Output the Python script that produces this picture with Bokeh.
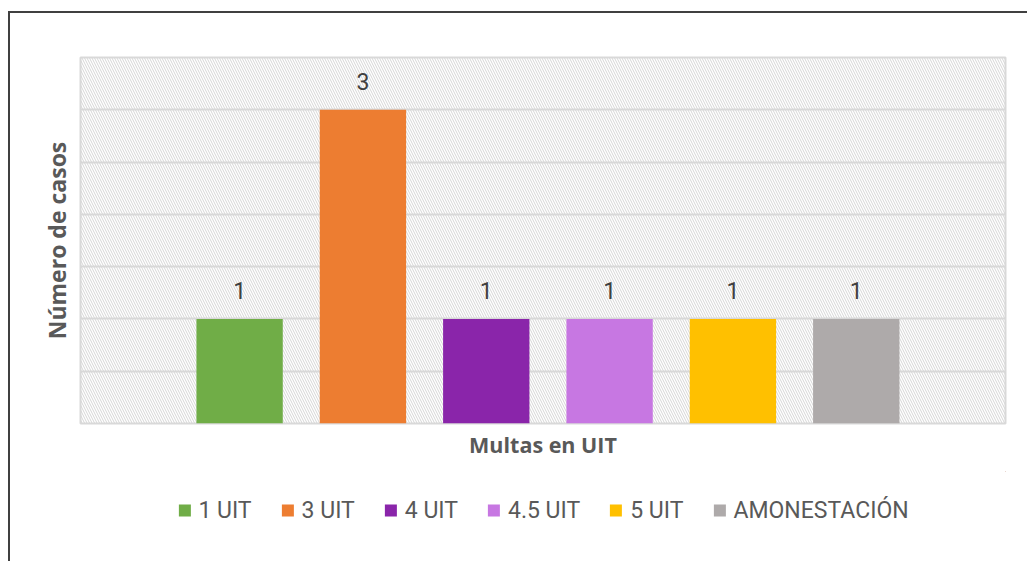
from bokeh.plotting import figure
from bokeh.layouts import column
from bokeh.models import (ColumnDataSource, Range1d, BoxAnnotation,
                          Legend, LegendItem, SingleIntervalTicker)
from bokeh.core.properties import value
from bokeh.embed import file_html
from bokeh.resources import INLINE

series = ["1 UIT", "3 UIT", "4 UIT", "4.5 UIT", "5 UIT", "AMONESTACIÓN"]
counts = [1, 3, 1, 1, 1, 1]
colors = ["#70AD47", "#ED7D31", "#8A25AA", "#C777E2", "#FFC000", "#AEAAAA"]
labels = [str(c) for c in counts]

FONT = "Open Sans"
LFONT = "Roboto"

xpos = list(range(len(series)))
src = ColumnDataSource(dict(x=xpos, top=counts, color=colors, label=labels))

p = figure(x_range=Range1d(-1.29, 6.21), y_range=Range1d(0, 3.5),
           width=1017, height=458, output_backend="svg", toolbar_location=None,
           min_border_left=70, min_border_right=22, min_border_top=44,
           min_border_bottom=48)

p.background_fill_color = "white"
p.border_fill_color = "white"
p.outline_line_color = "#d9d9d9"
p.outline_line_width = 2

# hatched plot-area background
p.add_layout(BoxAnnotation(fill_color=None, fill_alpha=0, line_color=None,
                           hatch_pattern="\\", hatch_color="#d6d6d6",
                           hatch_scale=5, hatch_weight=1, level="underlay"))

for i, s in enumerate(series):
    view_src = ColumnDataSource(dict(x=[xpos[i]], top=[counts[i]]))
    p.vbar(x="x", top="top", width=0.70, source=view_src,
           fill_color=colors[i], line_color=None)

p.text(x="x", y="top", text="label", source=src, y_offset=-28,
       text_align="center", text_baseline="alphabetic", text_color="#404040",
       text_font=value(LFONT), text_font_size="23px")

p.ygrid.ticker = SingleIntervalTicker(interval=0.5)
p.ygrid.grid_line_color = "#d9d9d9"
p.ygrid.grid_line_width = 2
p.xgrid.grid_line_color = None

p.yaxis.ticker = SingleIntervalTicker(interval=0.5)
p.yaxis.major_label_text_color = None
p.yaxis.major_label_text_font_size = "0px"
p.yaxis.major_label_standoff = 0
p.yaxis.major_tick_out = 0
p.yaxis.major_tick_in = 0
p.yaxis.axis_line_color = None
p.yaxis.major_tick_line_color = None
p.yaxis.minor_tick_line_color = None
p.yaxis.axis_label = "Número de casos"
p.yaxis.axis_label_text_font = FONT
p.yaxis.axis_label_text_font_style = "bold"
p.yaxis.axis_label_text_font_size = "23px"
p.yaxis.axis_label_text_color = "#595959"
p.yaxis.axis_label_standoff = 4

p.xaxis.major_label_text_color = None
p.xaxis.major_label_text_font_size = "0px"
p.xaxis.major_label_standoff = 0
p.xaxis.major_tick_out = 0
p.xaxis.major_tick_in = 0
p.xaxis.axis_line_color = None
p.xaxis.major_tick_line_color = None
p.xaxis.minor_tick_line_color = None
p.xaxis.axis_label = "Multas en UIT"
p.xaxis.axis_label_text_font = FONT
p.xaxis.axis_label_text_font_style = "bold"
p.xaxis.axis_label_text_font_size = "21.5px"
p.xaxis.axis_label_text_color = "#595959"
p.xaxis.axis_label_standoff = 2

# legend strip below the chart
lg = figure(width=1017, height=90, output_backend="svg", toolbar_location=None,
            x_range=Range1d(0, 1), y_range=Range1d(0, 1),
            min_border_left=35, min_border_right=0, min_border_top=0,
            min_border_bottom=12)
lg.axis.visible = False
lg.grid.visible = False
lg.outline_line_color = None
lg.background_fill_color = "white"
lg.border_fill_color = "white"
items = []
for s, c in zip(series, colors):
    # placeholder bar kept far outside the visible range: only its legend swatch shows
    r = lg.vbar(x=[100], top=[101], bottom=[100], width=0.1, fill_color=c, line_color=None)
    items.append(LegendItem(label=s, renderers=[r]))
legend = Legend(items=items, orientation="horizontal", location="center",
                glyph_width=15, glyph_height=15, label_standoff=7, spacing=28,
                label_text_font=LFONT, label_text_font_size="23px",
                label_text_color="#595959", border_line_color=None,
                background_fill_alpha=0, margin=0, padding=2)
lg.add_layout(legend)

layout = column(p, lg, spacing=0)
layout.styles = {"border-top": "2px solid #404040", "border-left": "2px solid #404040",
                 "margin-top": "11px", "margin-left": "8px"}

open("out.html", "w").write(file_html(layout, INLINE))
